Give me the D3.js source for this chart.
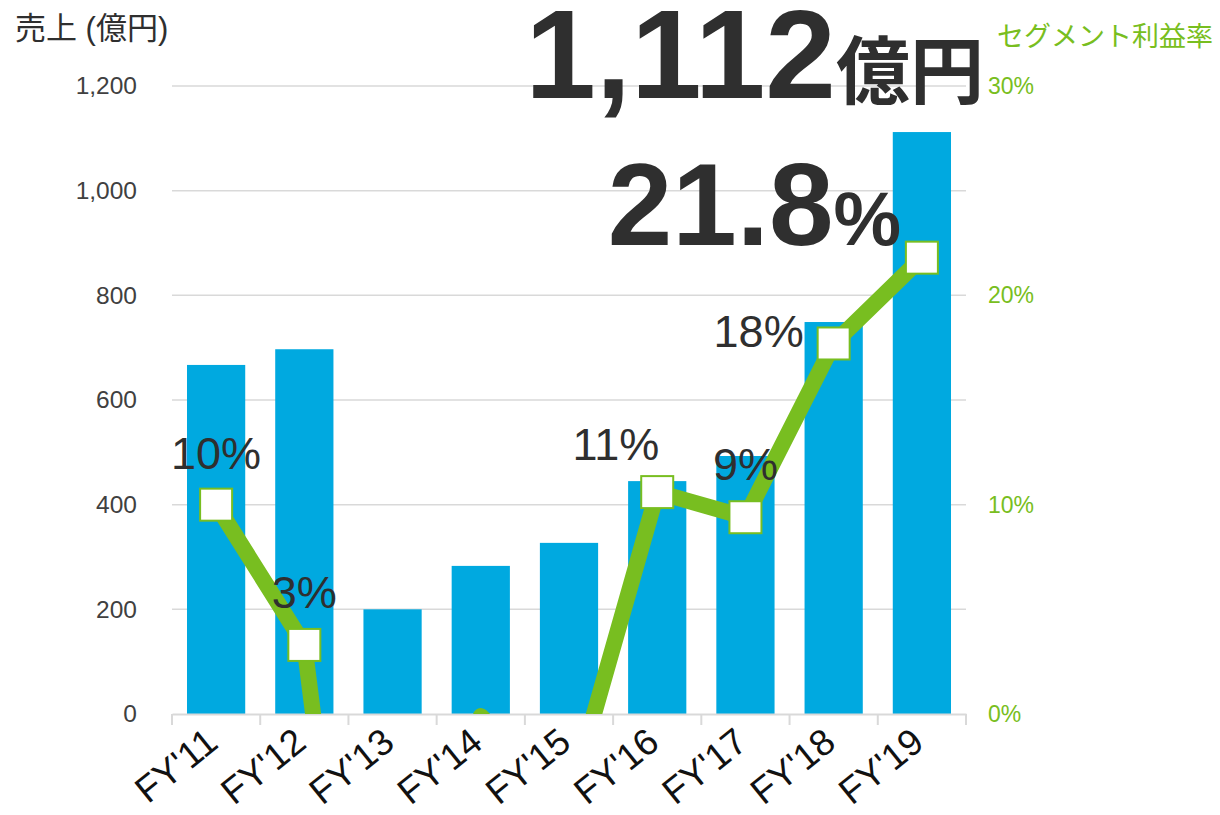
<!DOCTYPE html>
<html>
<head>
<meta charset="utf-8">
<title>売上とセグメント利益率</title>
<style>
  body { margin: 0; background: #fff; }
  svg text { font-family: "Liberation Sans", Arial, "Noto Sans CJK JP", sans-serif; }
</style>
<script src="https://d3js.org/d3.v7.min.js"></script>
</head>
<body>
<script>
// data
var years = ["FY'11", "FY'12", "FY'13", "FY'14", "FY'15", "FY'16", "FY'17", "FY'18", "FY'19"];
var sales = [667, 697, 200, 283, 327, 445, 493, 749, 1112];          // 億円
var margin = [10.0, 3.3, -30, -0.1, -4.2, 10.6, 9.4, 17.7, 21.8];   // %
var marginLabels = ["10%", "3%", "", "", "", "11%", "9%", "18%", ""];
var salesTicks = [0, 200, 400, 600, 800, 1000, 1200];
var marginTicks = [0, 10, 20, 30];

var width = 1220, height = 815;
var plotLeft = 172, plotRight = 966, plotTop = 86, plotBottom = 714;
var blue = "#00a9e0", green = "#78be20", dark = "#2f2f2f", grid = "#d9d9d9";

// where each small % label sits relative to its marker
var labelPlace = {
  "FY'11": { dx: 0, dy: -36, anchor: "middle" },
  "FY'12": { dx: 0, dy: -37, anchor: "middle" },
  "FY'16": { dx: 2, dy: -32, anchor: "end" },
  "FY'17": { dx: 0, dy: -37, anchor: "middle" },
  "FY'18": { dx: -30, dy: 4, anchor: "end" }
};

var svg = d3.select("body").append("svg")
    .attr("width", width)
    .attr("height", height);

var x = d3.scaleBand().domain(years).range([plotLeft, plotRight]).paddingInner(0.34).paddingOuter(0.17);
var xTick = d3.scaleBand().domain(years).range([plotLeft, plotRight]);
var y = d3.scaleLinear().domain([0, 1200]).range([plotBottom, plotTop]);
var y2 = d3.scaleLinear().domain([0, 30]).range([plotBottom, plotTop]);

// gridlines
svg.append("g").selectAll("line")
    .data(salesTicks.slice(1))
    .enter().append("line")
    .attr("x1", plotLeft).attr("x2", plotRight)
    .attr("y1", function(d) { return y(d); })
    .attr("y2", function(d) { return y(d); })
    .attr("stroke", grid).attr("stroke-width", 1.5);

// bars
svg.append("g").selectAll("rect")
    .data(sales)
    .enter().append("rect")
    .attr("x", function(d, i) { return x(years[i]); })
    .attr("width", x.bandwidth())
    .attr("y", function(d) { return y(d); })
    .attr("height", function(d) { return y(0) - y(d); })
    .attr("fill", blue);

// category axis
var xAxis = svg.append("g")
    .attr("transform", "translate(0," + plotBottom + ")")
    .call(d3.axisBottom(xTick).tickSize(0).tickFormat(""));
xAxis.select(".domain").attr("stroke", grid).attr("stroke-width", 2);
svg.append("g").selectAll("line")
    .data(years.concat(["end"]))
    .enter().append("line")
    .attr("x1", function(d, i) { return plotLeft + i * xTick.bandwidth(); })
    .attr("x2", function(d, i) { return plotLeft + i * xTick.bandwidth(); })
    .attr("y1", plotBottom).attr("y2", plotBottom + 11)
    .attr("stroke", grid).attr("stroke-width", 2);

svg.append("g").selectAll("text")
    .data(years)
    .enter().append("text")
    .attr("transform", function(d) {
      return "translate(" + (xTick(d) + xTick.bandwidth() / 2 + 4) + "," + (plotBottom + 32) + ") rotate(-39)";
    })
    .attr("text-anchor", "end")
    .attr("font-size", 37)
    .attr("fill", "#111")
    .text(function(d) { return d; });

// left axis
var yAxis = svg.append("g")
    .attr("transform", "translate(" + (plotLeft - 32) + ",0)")
    .call(d3.axisLeft(y).tickValues(salesTicks).tickFormat(d3.format(",")).tickSize(0));
yAxis.select(".domain").remove();
yAxis.selectAll("text").attr("font-size", 24.5).attr("fill", "#404040");

// right axis
var y2Axis = svg.append("g")
    .attr("transform", "translate(" + (plotRight + 22) + ",0)")
    .call(d3.axisRight(y2).tickValues(marginTicks).tickFormat(function(d) { return d + "%"; }).tickSize(0));
y2Axis.select(".domain").remove();
y2Axis.selectAll("text").attr("font-size", 23).attr("fill", green).attr("x", 0);

// axis titles
svg.append("text")
    .attr("x", 15).attr("y", 39)
    .attr("font-size", 31)
    .attr("fill", dark)
    .text("売上 (億円)");
svg.append("text")
    .attr("x", 1213).attr("y", 46)
    .attr("text-anchor", "end")
    .attr("font-size", 27)
    .attr("fill", green)
    .text("セグメント利益率");

// margin line, clipped to the plot area
svg.append("clipPath").attr("id", "plot")
  .append("rect")
    .attr("x", plotLeft).attr("y", 0)
    .attr("width", plotRight - plotLeft).attr("height", plotBottom);

var line = d3.line()
    .x(function(d, i) { return x(years[i]) + x.bandwidth() / 2; })
    .y(function(d) { return y2(d); });

svg.append("path")
    .datum(margin)
    .attr("clip-path", "url(#plot)")
    .attr("d", line)
    .attr("fill", "none")
    .attr("stroke", green)
    .attr("stroke-width", 16)
    .attr("stroke-linejoin", "round");

var pts = margin.map(function(d, i) { return { year: years[i], v: d, label: marginLabels[i] }; });

svg.append("g").selectAll("rect")
    .data(pts.filter(function(d) { return d.v >= 0; }))
    .enter().append("rect")
    .attr("x", function(d) { return x(d.year) + x.bandwidth() / 2 - 16; })
    .attr("y", function(d) { return y2(d.v) - 16; })
    .attr("width", 32).attr("height", 32)
    .attr("fill", "#fff")
    .attr("stroke", green)
    .attr("stroke-width", 2);

svg.append("g").selectAll("text")
    .data(pts.filter(function(d) { return d.label !== ""; }))
    .enter().append("text")
    .attr("x", function(d) { return x(d.year) + x.bandwidth() / 2 + labelPlace[d.year].dx; })
    .attr("y", function(d) { return y2(d.v) + labelPlace[d.year].dy; })
    .attr("text-anchor", function(d) { return labelPlace[d.year].anchor; })
    .attr("font-size", 45)
    .attr("fill", dark)
    .text(function(d) { return d.label; });

// headline figures for the latest year
var last = years.length - 1;
var big1 = svg.append("text")
    .attr("x", 984).attr("y", 98)
    .attr("text-anchor", "end")
    .attr("font-weight", "bold")
    .attr("fill", dark);
big1.append("tspan").attr("font-size", 127).text(d3.format(",")(sales[last]));
big1.append("tspan").attr("font-size", 74).text("億円");

var big2 = svg.append("text")
    .attr("x", 901).attr("y", 245)
    .attr("text-anchor", "end")
    .attr("font-weight", "bold")
    .attr("fill", dark);
big2.append("tspan").attr("font-size", 116).text(d3.format(".1f")(margin[last]));
big2.append("tspan").attr("font-size", 76).text("%");
</script>
</body>
</html>
